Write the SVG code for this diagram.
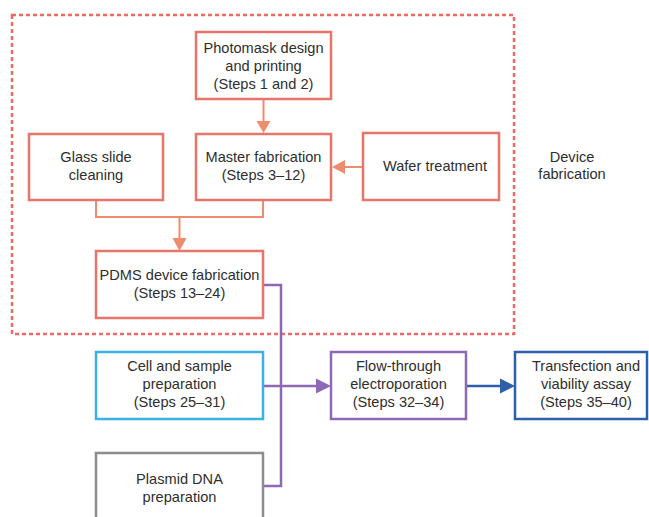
<svg xmlns="http://www.w3.org/2000/svg" width="649" height="517" viewBox="0 0 649 517">
<defs>
<style>
text{font-family:"Liberation Sans",Arial,sans-serif;font-size:14.6px;fill:#2e2e2e;text-anchor:middle}
.red{fill:#fff;stroke:#e8746c;stroke-width:2.5}
.cyan{fill:#fff;stroke:#3cb0e4;stroke-width:2.5}
.grey{fill:#fff;stroke:#8c8c8c;stroke-width:2.5}
.purple{fill:#fff;stroke:#8e68b4;stroke-width:2.5}
.blue{fill:#fff;stroke:#2d5fab;stroke-width:2.5}
.oline{fill:none;stroke:#ee8c6e;stroke-width:2}
.pline{fill:none;stroke:#8e68b4;stroke-width:2.5}
.bline{fill:none;stroke:#2d5fab;stroke-width:2.5}
.oh{fill:#ee8c6e}
</style>
</defs>
<rect x="12" y="15" width="502" height="319" fill="none" stroke="#ec6a62" stroke-width="2.5" stroke-dasharray="4 3"/>
<g id="connectors">
<line class="oline" x1="263.5" y1="100" x2="263.5" y2="124"/>
<path class="oh" d="M256.5,121L270.5,121L263.5,133z"/>
<line class="oline" x1="363" y1="167" x2="342" y2="167"/>
<path class="oh" d="M332,167L345,160L345,174z"/>
<path class="oline" d="M96,200V217H263V200"/>
<line class="oline" x1="179.5" y1="217" x2="179.5" y2="240"/>
<path class="oh" d="M172.5,238L186.5,238L179.5,251z"/>
<path class="pline" d="M263,285H281V486H263"/>
<line class="pline" x1="263" y1="386" x2="319" y2="386"/>
<path d="M331,386L316,378.5L316,393.5z" fill="#8e68b4"/>
<line class="bline" x1="466" y1="386" x2="503" y2="386"/>
<path d="M515,386L500,378.5L500,393.5z" fill="#2d5fab"/>
</g>
<g id="photomask"><rect class="red" x="196" y="32" width="135" height="67"/>
<text x="263.5" y="53">Photomask design</text><text x="263.5" y="71">and printing</text><text x="263.5" y="89">(Steps 1 and 2)</text></g>
<g id="glass"><rect class="red" x="29" y="134" width="134" height="66"/>
<text x="96" y="162">Glass slide</text><text x="96" y="180">cleaning</text></g>
<g id="master"><rect class="red" x="196" y="134" width="135" height="66"/>
<text x="263.5" y="162">Master fabrication</text><text x="263.5" y="180">(Steps 3–12)</text></g>
<g id="wafer"><rect class="red" x="363" y="133" width="136" height="67"/>
<text x="435" y="171">Wafer treatment</text></g>
<g id="devicefab"><text x="572" y="162">Device</text><text x="572" y="179">fabrication</text></g>
<g id="pdms"><rect class="red" x="96" y="251" width="167" height="67"/>
<text x="179.5" y="280">PDMS device fabrication</text><text x="179.5" y="298">(Steps 13–24)</text></g>
<g id="cell"><rect class="cyan" x="96" y="352" width="167" height="67"/>
<text x="179.5" y="371">Cell and sample</text><text x="179.5" y="389">preparation</text><text x="179.5" y="407">(Steps 25–31)</text></g>
<g id="plasmid"><rect class="grey" x="96" y="453" width="167" height="80"/>
<text x="179.5" y="484">Plasmid DNA</text><text x="179.5" y="502">preparation</text></g>
<g id="flow"><rect class="purple" x="331" y="352" width="135" height="67"/>
<text x="398.5" y="371">Flow-through</text><text x="398.5" y="389">electroporation</text><text x="398.5" y="407">(Steps 32–34)</text></g>
<g id="transfection"><rect class="blue" x="515" y="352" width="132" height="67"/>
<text x="586" y="371">Transfection and</text><text x="586" y="389">viability assay</text><text x="586" y="407">(Steps 35–40)</text></g>
</svg>
